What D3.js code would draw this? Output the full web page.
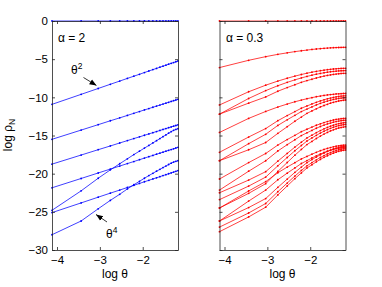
<!DOCTYPE html>
<html><head><meta charset="utf-8">
<script src="https://cdn.jsdelivr.net/npm/d3@7"></script>
<style>
body{margin:0;background:#fff}
svg{display:block}
text{font-family:"Liberation Sans",Arial,Helvetica,sans-serif}
</style>
</head><body>
<svg id="c" width="382" height="287"></svg>
<script>
// sample positions (log theta)
const logTheta = [-4.117,-3.437,-3.039,-2.756,-2.537,-2.358,-2.207,-2.076,-1.960,-1.857,-1.763,-1.678,-1.599,-1.527,-1.459,-1.396,-1.336,-1.280,-1.227,-1.177];
const xTicks = [-4,-3,-2];
const yTicks = [0,-5,-10,-15,-20,-25,-30];
const xDomain = [-4.117,-1.177];
const yDomain = [-30,0];

// alpha = 2 (blue)
const a2_0 = [0,0,0,0,0,0,0,0,0,0,0,0,0,0,0,0,0,0,0,0];
const a2_1 = [-10.92,-9.61,-8.84,-8.29,-7.87,-7.52,-7.23,-6.98,-6.75,-6.55,-6.37,-6.21,-6.05,-5.92,-5.79,-5.66,-5.55,-5.44,-5.34,-5.24];
const a2_2 = [-15.5,-14.29,-13.58,-13.07,-12.69,-12.37,-12.09,-11.86,-11.65,-11.47,-11.3,-11.15,-11.01,-10.88,-10.76,-10.65,-10.54,-10.44,-10.35,-10.26];
const a2_3 = [-18.75,-17.56,-16.86,-16.37,-15.98,-15.67,-15.4,-15.18,-14.97,-14.79,-14.63,-14.48,-14.34,-14.21,-14.09,-13.98,-13.88,-13.78,-13.69,-13.6];
const a2_4 = [-21.85,-20.63,-19.91,-19.4,-19.0,-18.68,-18.41,-18.17,-17.96,-17.77,-17.61,-17.45,-17.31,-17.18,-17.06,-16.94,-16.84,-16.74,-16.64,-16.55];
const a2_5 = [-24.8,-22.25,-20.6,-19.5,-18.7,-18.05,-17.5,-17.05,-16.65,-16.3,-15.97,-15.68,-15.4,-15.15,-14.92,-14.7,-14.5,-14.32,-14.2,-14.1];
const a2_6 = [-25.1,-23.83,-23.08,-22.55,-22.15,-21.81,-21.53,-21.28,-21.06,-20.87,-20.69,-20.54,-20.39,-20.25,-20.13,-20.01,-19.9,-19.79,-19.69,-19.6];
const a2_7 = [-28.0,-26.2,-24.6,-23.5,-22.7,-22.0,-21.45,-21.0,-20.6,-20.25,-19.95,-19.68,-19.43,-19.2,-19.0,-18.8,-18.63,-18.48,-18.38,-18.3];

// alpha = 0.3 (red)
const a03_0 = [0,0,0,0,0,0,0,0,0,0,0,0,0,0,0,0,0,0,0,0];
const a03_1 = [-6.1,-5.15,-4.67,-4.37,-4.17,-4.01,-3.9,-3.81,-3.73,-3.67,-3.62,-3.58,-3.55,-3.52,-3.5,-3.48,-3.47,-3.46,-3.45,-3.45];
const a03_2 = [-11,-9.27,-8.41,-7.87,-7.5,-7.22,-7.01,-6.84,-6.7,-6.6,-6.51,-6.44,-6.38,-6.33,-6.29,-6.26,-6.23,-6.21,-6.2,-6.2];
const a03_3 = [-12.2,-10.15,-9.12,-8.48,-8.04,-7.71,-7.46,-7.26,-7.1,-6.97,-6.87,-6.78,-6.71,-6.65,-6.61,-6.57,-6.54,-6.52,-6.51,-6.5];
const a03_4 = [-12.2,-10.76,-9.95,-9.2,-8.72,-8.35,-8.03,-7.81,-7.63,-7.47,-7.33,-7.22,-7.13,-7.06,-7.0,-6.95,-6.91,-6.88,-6.86,-6.85];
const a03_5 = [-14.6,-12.76,-11.85,-11.27,-10.88,-10.58,-10.36,-10.18,-10.04,-9.92,-9.83,-9.75,-9.69,-9.64,-9.6,-9.56,-9.54,-9.52,-9.5,-9.5];
const a03_6 = [-17.2,-15.2,-14.09,-13.06,-12.39,-11.87,-11.43,-11.13,-10.87,-10.65,-10.47,-10.32,-10.19,-10.1,-10.01,-9.94,-9.89,-9.84,-9.82,-9.8];
const a03_7 = [-18.3,-16.07,-14.84,-13.68,-12.94,-12.36,-11.87,-11.54,-11.25,-11.0,-10.79,-10.63,-10.49,-10.38,-10.28,-10.21,-10.15,-10.1,-10.07,-10.05];
const a03_8 = [-18.3,-16.87,-15.92,-14.72,-13.85,-13.13,-12.58,-12.1,-11.78,-11.5,-11.26,-11.07,-10.91,-10.76,-10.65,-10.56,-10.48,-10.42,-10.38,-10.35];
const a03_9 = [-20.7,-18.55,-17.36,-16.25,-15.53,-14.98,-14.5,-14.18,-13.9,-13.66,-13.47,-13.31,-13.17,-13.07,-12.97,-12.9,-12.85,-12.8,-12.77,-12.75];
const a03_10 = [-22.15,-19.68,-18.31,-17.03,-16.2,-15.56,-15.01,-14.65,-14.33,-14.05,-13.82,-13.64,-13.49,-13.37,-13.26,-13.17,-13.11,-13.06,-13.02,-13.0];
const a03_11 = [-22.5,-20.84,-19.74,-18.36,-17.35,-16.52,-15.88,-15.32,-14.96,-14.63,-14.36,-14.13,-13.94,-13.78,-13.65,-13.54,-13.45,-13.38,-13.34,-13.3];
const a03_12 = [-23.4,-21.63,-20.45,-18.97,-17.88,-17.0,-16.31,-15.72,-15.32,-14.98,-14.68,-14.44,-14.24,-14.06,-13.92,-13.81,-13.71,-13.64,-13.59,-13.55];
const a03_13 = [-24.5,-22.58,-21.31,-19.71,-18.54,-17.58,-16.83,-16.19,-15.77,-15.39,-15.08,-14.81,-14.6,-14.4,-14.26,-14.13,-14.02,-13.95,-13.89,-13.85];
const a03_14 = [-24.5,-22.27,-21.04,-19.88,-19.14,-18.56,-18.07,-17.74,-17.45,-17.2,-16.99,-16.83,-16.69,-16.58,-16.48,-16.41,-16.35,-16.3,-16.27,-16.25];
const a03_15 = [-26.2,-24.44,-23.26,-21.79,-20.71,-19.83,-19.14,-18.56,-18.16,-17.82,-17.53,-17.28,-17.09,-16.91,-16.77,-16.66,-16.56,-16.49,-16.44,-16.4];
const a03_16 = [-26.2,-23.59,-22.15,-20.8,-19.93,-19.25,-18.67,-18.29,-17.95,-17.66,-17.42,-17.23,-17.06,-16.94,-16.82,-16.73,-16.67,-16.61,-16.57,-16.55];
const a03_17 = [-27.0,-25.15,-23.91,-22.37,-21.23,-20.31,-19.58,-18.97,-18.55,-18.19,-17.88,-17.63,-17.42,-17.24,-17.09,-16.97,-16.87,-16.79,-16.74,-16.7];
const a03_18 = [-27.6,-25.67,-24.39,-22.79,-21.61,-20.65,-19.9,-19.25,-18.83,-18.45,-18.13,-17.86,-17.65,-17.46,-17.31,-17.18,-17.07,-17.0,-16.94,-16.9];

const leftSeries = [a2_0,a2_1,a2_2,a2_3,a2_4,a2_5,a2_6,a2_7];
const rightSeries = [a03_0,a03_1,a03_2,a03_3,a03_4,a03_5,a03_6,a03_7,a03_8,a03_9,a03_10,a03_11,a03_12,a03_13,a03_14,a03_15,a03_16,a03_17,a03_18];

(function(){
const svg = d3.select('#c');
const yTop = 21, yBottom = 250;
const y = d3.scaleLinear().domain(yDomain).range([yBottom, yTop]);
const fmt = d3.format('d');

svg.append('defs').append('marker')
  .attr('id','ah').attr('viewBox','0 0 10 10').attr('refX',10).attr('refY',5)
  .attr('markerWidth',7).attr('markerHeight',7).attr('markerUnits','userSpaceOnUse')
  .attr('orient','auto')
  .append('path').attr('d','M0,1 L10,5 L0,9 Z').attr('fill','#000');

const panels = [
  {x0:52, x1:178, series:leftSeries, color:'#0000ff', label:'α = 2', lx:58, yLabels:true},
  {x0:219.5, x1:345.5, series:rightSeries, color:'#ff0000', label:'α = 0.3', lx:226, yLabels:false}
];

panels.forEach(p => {
  const x = d3.scaleLinear().domain(xDomain).range([p.x0, p.x1]);
  const g = svg.append('g');

  const line = d3.line().x((d,j) => x(logTheta[j])).y(d => y(d));
  p.series.forEach(s => {
    g.append('path').attr('d', line(s)).attr('fill','none')
      .attr('stroke', p.color).attr('stroke-width', 0.75);
    g.selectAll(null).data(s).enter().append('circle')
      .attr('cx', (d,j) => x(logTheta[j])).attr('cy', d => y(d))
      .attr('r', 0.9).attr('fill', p.color);
  });

  const axStyle = sel => {
    sel.selectAll('path.domain').attr('stroke','#222').attr('stroke-width',0.8);
    sel.selectAll('.tick line').attr('stroke','#222').attr('stroke-width',0.8);
    sel.selectAll('text').attr('font-family','"Liberation Sans",Arial,sans-serif').attr('font-size',11.5).attr('fill','#000');
  };

  const yl = d3.axisLeft(y).tickValues(yTicks).tickSizeInner(-3).tickSizeOuter(0).tickPadding(4).tickFormat(p.yLabels ? fmt : '');
  svg.append('g').attr('transform',`translate(${p.x0},0)`).call(yl).call(axStyle);
  svg.append('g').attr('transform',`translate(${p.x1},0)`)
    .call(d3.axisRight(y).tickValues(yTicks).tickSizeInner(-3).tickSizeOuter(0).tickFormat('')).call(axStyle);
  svg.append('g').attr('transform',`translate(0,${yBottom})`)
    .call(d3.axisBottom(x).tickValues(xTicks).tickSizeInner(-3).tickSizeOuter(0).tickPadding(6).tickFormat(fmt)).call(axStyle);
  svg.append('g').attr('transform',`translate(0,${yTop})`)
    .call(d3.axisTop(x).tickValues(xTicks).tickSizeInner(-3).tickSizeOuter(0).tickFormat('')).call(axStyle);

  svg.append('text').attr('x', p.lx).attr('y', 41.5).attr('font-size', 12).text(p.label);
  svg.append('text').attr('x', (p.x0 + p.x1) / 2).attr('y', 278).attr('text-anchor','middle')
    .attr('font-size', 12).text('log θ');
});

// y label
const ylab = svg.append('text').attr('transform','translate(11.5,135) rotate(-90)')
  .attr('text-anchor','middle').attr('font-size',12);
ylab.append('tspan').text('log ρ');
ylab.append('tspan').attr('font-size',8.5).attr('dy',3).text('N');

// annotations
const t2 = svg.append('text').attr('x',71).attr('y',73.5).attr('font-size',12);
t2.append('tspan').text('θ');
t2.append('tspan').attr('font-size',8.5).attr('dy',-5).text('2');
svg.append('line').attr('x1',83.5).attr('y1',77.5).attr('x2',96.5).attr('y2',85.5)
  .attr('stroke','#000').attr('stroke-width',0.8).attr('marker-end','url(#ah)');

const t4 = svg.append('text').attr('x',106).attr('y',237.5).attr('font-size',12);
t4.append('tspan').text('θ');
t4.append('tspan').attr('font-size',8.5).attr('dy',-5).text('4');
svg.append('line').attr('x1',107).attr('y1',222).attr('x2',96).attr('y2',214.5)
  .attr('stroke','#000').attr('stroke-width',0.8).attr('marker-end','url(#ah)');
})();
</script>
</body></html>
